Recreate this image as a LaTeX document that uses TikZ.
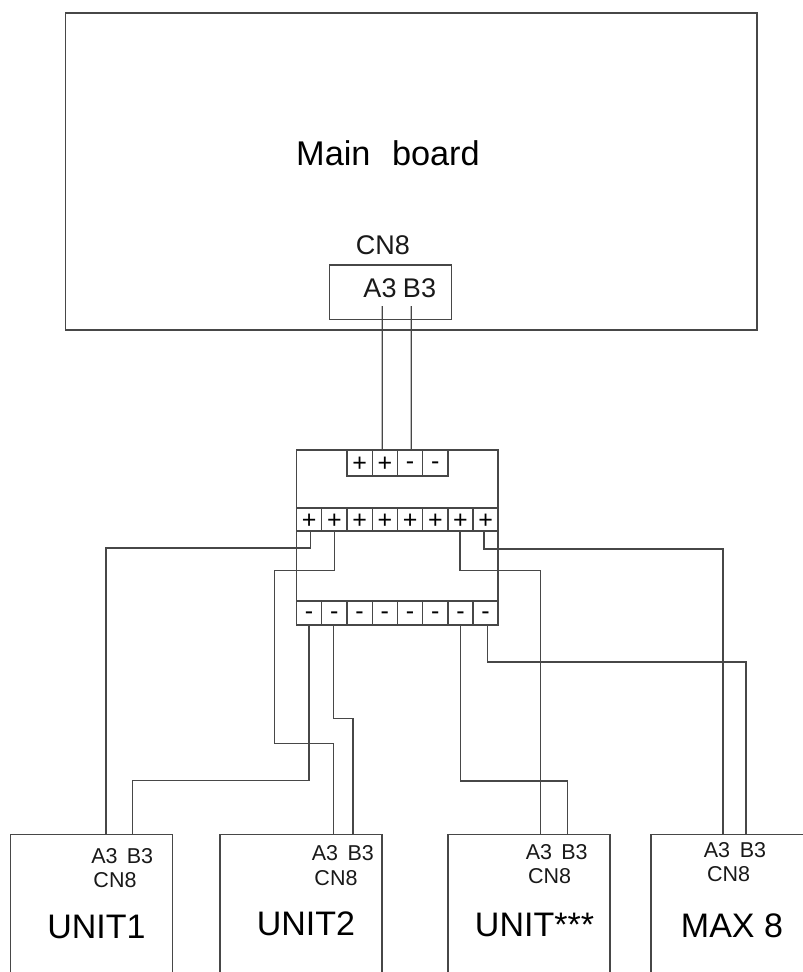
\documentclass[tikz,border=0pt]{standalone}
\usepackage{fontspec}
\setmainfont{Liberation Sans}
\tikzset{
  x=1pt,y=-1pt,
  box/.style={draw=black!72,line width=1.35pt,anchor=north west,inner sep=0pt,outer sep=0pt},
  cell/.style={draw=black!72,line width=1.35pt,anchor=north west,inner sep=0pt,outer sep=0pt,minimum width=25.2pt,font=\fontsize{25}{25}\selectfont},
  pluscell/.style={cell,text height=17.5pt,text depth=0pt},
  minuscell/.style={cell,text height=13.8pt,text depth=0pt},
  wire/.style={draw=black!72,line width=1.35pt},
  lbl/.style={inner sep=0pt,text=black!90,font=\fontsize{21.5}{22}\selectfont},
  biglbl/.style={inner sep=0pt,text=black!90,font=\fontsize{27}{28}\selectfont},
  unitname/.style={inner sep=0pt,text=black,font=\fontsize{34}{35}\selectfont},
  mainname/.style={inner sep=0pt,text=black,font=\fontsize{34.3}{35}\selectfont},
}
\begin{document}
\begin{tikzpicture}
\useasboundingbox (0,0) rectangle (803,972);
\clip (0,0) rectangle (803,972);
% main board
\node[box,minimum width=691.5pt,minimum height=317pt] (main) at (65.5,13) {};
\node[mainname] (mainlbl) at (388,153) {Main\hspace{12pt} board};
\node[biglbl] (cn8lbl) at (383,245) {CN8};
\node[box,minimum width=122.4pt,minimum height=54.7pt] (cn8) at (329.3,265) {};
\node[biglbl] (a3m) at (380,288) {A3};
\node[biglbl] (b3m) at (419.5,288) {B3};
\coordinate (ca) at (382.3,306);
\coordinate (cb) at (411.3,306);
% terminal block
\node[box,minimum width=201.5pt,minimum height=175pt] (tb) at (296.5,450) {};
\node[pluscell,minimum height=26pt] (t1) at (347,450) {+};
\node[pluscell,minimum height=26pt] (t2) at (372.3,450) {+};
\node[minuscell,minimum height=26pt] (t3) at (397.5,450) {-};
\node[minuscell,minimum height=26pt] (t4) at (422.7,450) {-};
\foreach \i/\x in {1/296.5,2/321.7,3/347,4/372.3,5/397.5,6/422.7,7/447.9,8/473}{
  \node[pluscell,minimum height=23pt] (p\i) at (\x,508) {+};
  \node[minuscell,minimum height=24pt] (m\i) at (\x,601) {-};
}
% units
\node[box,minimum width=162pt,minimum height=160pt] (u1) at (10.5,834.5) {};
\node[box,minimum width=162pt,minimum height=160pt] (u2) at (220,834.5) {};
\node[box,minimum width=162pt,minimum height=160pt] (u3) at (448,834.5) {};
\node[box,minimum width=170pt,minimum height=160pt] (u4) at (651,834.5) {};
\foreach \n/\ax/\ay/\bx/\cx/\cy/\tx/\ty/\t in {
  u1/104.5/856/140/115/880/96.5/927/UNIT1,
  u2/325/853/360.7/336/878/306/924/UNIT2,
  u3/539/852/574.5/549.5/876/534.5/925/UNIT***,
  u4/717/850/753/728.5/874/732/926/MAX 8}{
  \node[lbl] (\n a) at (\ax,\ay) {A3};
  \node[lbl] (\n b) at (\bx,\ay) {B3};
  \node[lbl] (\n c) at (\cx,\cy) {CN8};
  \node[unitname] (\n n) at (\tx,\ty) {\t};
}
\coordinate (u1A) at (106,834.5);
\coordinate (u1B) at (132.7,834.5);
\coordinate (u2A) at (333.3,834.5);
\coordinate (u2B) at (353,834.5);
\coordinate (u3A) at (540.7,834.5);
\coordinate (u3B) at (567.7,834.5);
\coordinate (u4A) at (723,834.5);
\coordinate (u4B) at (746,834.5);
% wires
\draw[wire] (ca) -- ([xshift=-2.6pt]t2.north);
\draw[wire] (cb) -- ([xshift=1.2pt]t3.north);
\draw[wire] ([xshift=1.6pt]p1.south) -- ++(0,17) -| (u1A);
\draw[wire] ([xshift=0.4pt]p2.south) -- ++(0,39.7) -- ++(-60,0) -- ++(0,173) -| (u2A);
\draw[wire] ([xshift=-0.5pt]p7.south) -- ++(0,39.7) -| (u3A);
\draw[wire] ([xshift=-1.6pt]p8.south) -- ++(0,18) -| (u4A);
\draw[wire] (m1.south) -- ++(0,155.3) -| (u1B);
\draw[wire] ([xshift=-1pt]m2.south) -- ++(0,93.7) -| (u2B);
\draw[wire] (m7.south) -- ++(0,156) -| (u3B);
\draw[wire] ([xshift=2pt]m8.south) -- ++(0,37) -| (u4B);
\end{tikzpicture}
\end{document}
